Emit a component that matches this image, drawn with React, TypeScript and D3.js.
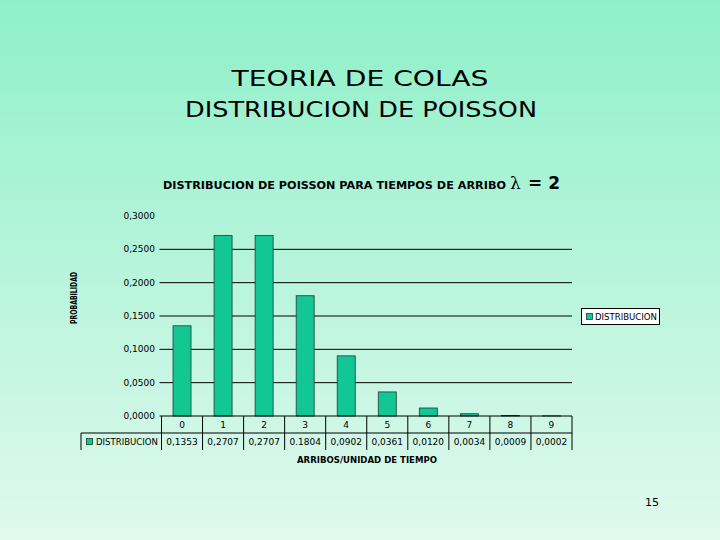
import React from "react";
import * as d3 from "d3";

const categories = ["0", "1", "2", "3", "4", "5", "6", "7", "8", "9"];
const probabilities = [0.1353, 0.2707, 0.2707, 0.1804, 0.0902, 0.0361, 0.012, 0.0034, 0.0009, 0.0002];
const tableLabels = ["0,1353", "0,2707", "0,2707", "0.1804", "0,0902", "0,0361", "0,0120", "0,0034", "0,0009", "0,0002"];
const yTicks = [0, 0.05, 0.1, 0.15, 0.2, 0.25, 0.3];
const seriesName = "DISTRIBUCION";

const W = 720;
const H = 540;
const plotLeft = 161.5;
const plotRight = 572;
const plotTop = 216;
const plotBottom = 416;

export default function App() {
  const x = d3.scaleBand<string>().domain(categories).range([plotLeft, plotRight]).paddingInner(0).paddingOuter(0);
  const y = d3.scaleLinear().domain([0, 0.3]).range([plotBottom, plotTop]);
  const barW = 18;
  const fmt = (v: number) => d3.format(".4f")(v).replace(".", ",");
  const font = "'DejaVu Sans', Verdana, sans-serif";
  const green = "#12c793";
  const rowMid = 433;
  const rowBot = 450;

  return (
    <svg
      width={W}
      height={H}
      style={{ position: "absolute", left: 0, top: 0 }}
      xmlns="http://www.w3.org/2000/svg"
    >
      <defs>
        <linearGradient id="bg" x1="0" y1="0" x2="0" y2="1">
          <stop offset="0" stopColor="#8ef0c9" />
          <stop offset="1" stopColor="#e0f9ee" />
        </linearGradient>
      </defs>
      <rect x={0} y={0} width={W} height={H} fill="url(#bg)" />

      <text x={360} y={86} textAnchor="middle" fontFamily={font} fontSize={22} fill="#000" textLength={257} lengthAdjust="spacingAndGlyphs">
        TEORIA DE COLAS
      </text>
      <text x={361} y={117} textAnchor="middle" fontFamily={font} fontSize={22} fill="#000" textLength={352} lengthAdjust="spacingAndGlyphs">
        DISTRIBUCION DE POISSON
      </text>

      <text x={163} y={189} fontFamily={font} fontSize={10.5} fontWeight="bold" fill="#000" textLength={343} lengthAdjust="spacingAndGlyphs">
        DISTRIBUCION DE POISSON PARA TIEMPOS DE ARRIBO
      </text>
      <text x={510} y={189} fontFamily="'DejaVu Serif', serif" fontSize={17} fill="#000">λ</text>
      <text x={528} y={189} fontFamily={font} fontSize={17} fontWeight="bold" fill="#000">= 2</text>

      {/* gridlines */}
      {yTicks.map((t) => (
        <g key={t}>
          {t > 0 && t < 0.3 && (
            <line x1={plotLeft - 2} x2={plotRight} y1={y(t)} y2={y(t)} stroke="#000" strokeWidth={1} />
          )}
          <text x={155} y={y(t) + 3} textAnchor="end" fontFamily={font} fontSize={9} fill="#000">
            {fmt(t)}
          </text>
        </g>
      ))}

      {/* bars */}
      {probabilities.map((v, i) => (
        <rect
          key={i}
          x={(x(categories[i]) as number) + x.bandwidth() / 2 - barW / 2}
          y={y(v)}
          width={barW}
          height={plotBottom - y(v)}
          fill={green}
          stroke="#1b3d33"
          strokeWidth={0.8}
        />
      ))}

      {/* x axis line */}
      <line x1={plotLeft - 2} x2={plotRight} y1={plotBottom} y2={plotBottom} stroke="#000" strokeWidth={1} />

      {/* data table */}
      <line x1={81} x2={plotRight} y1={rowMid} y2={rowMid} stroke="#000" strokeWidth={1} />
      <line x1={81} x2={81} y1={rowMid} y2={rowBot} stroke="#000" strokeWidth={1} />
      {categories.map((c, i) => {
        const bx = x(c) as number;
        return (
          <g key={c}>
            <line x1={bx + x.bandwidth()} x2={bx + x.bandwidth()} y1={plotBottom} y2={rowBot} stroke="#000" strokeWidth={1} />
            {i === 0 && <line x1={bx} x2={bx} y1={plotBottom} y2={rowBot} stroke="#000" strokeWidth={1} />}
            <text x={bx + x.bandwidth() / 2} y={428} textAnchor="middle" fontFamily={font} fontSize={9} fill="#000">
              {c}
            </text>
            <text x={bx + x.bandwidth() / 2} y={445} textAnchor="middle" fontFamily={font} fontSize={9} fill="#000">
              {tableLabels[i]}
            </text>
          </g>
        );
      })}
      <rect x={86.5} y={438.5} width={6} height={6} fill={green} stroke="#1b3d33" strokeWidth={0.8} />
      <text x={96} y={445} fontFamily={font} fontSize={9} fill="#000" textLength={62} lengthAdjust="spacingAndGlyphs">
        {seriesName}
      </text>

      <text x={367} y={463} textAnchor="middle" fontFamily={font} fontSize={9} fontWeight="bold" fill="#000" textLength={140} lengthAdjust="spacingAndGlyphs">
        ARRIBOS/UNIDAD DE TIEMPO
      </text>

      <text
        transform="translate(77, 298) rotate(-90)"
        textAnchor="middle"
        fontFamily={font}
        fontSize={9}
        fontWeight="bold"
        fill="#000"
        textLength={52}
        lengthAdjust="spacingAndGlyphs"
      >
        PROBABILIDAD
      </text>

      {/* legend */}
      <rect x={581.5} y={308.5} width={78} height={16} fill="#fff" stroke="#000" strokeWidth={1} />
      <rect x={586.5} y={313.5} width={6} height={6} fill={green} stroke="#1b3d33" strokeWidth={0.8} />
      <text x={595} y={320} fontFamily={font} fontSize={9} fill="#000" textLength={62} lengthAdjust="spacingAndGlyphs">
        {seriesName}
      </text>

      <text x={652} y={506} textAnchor="middle" fontFamily={font} fontSize={11} fill="#000">15</text>
    </svg>
  );
}
